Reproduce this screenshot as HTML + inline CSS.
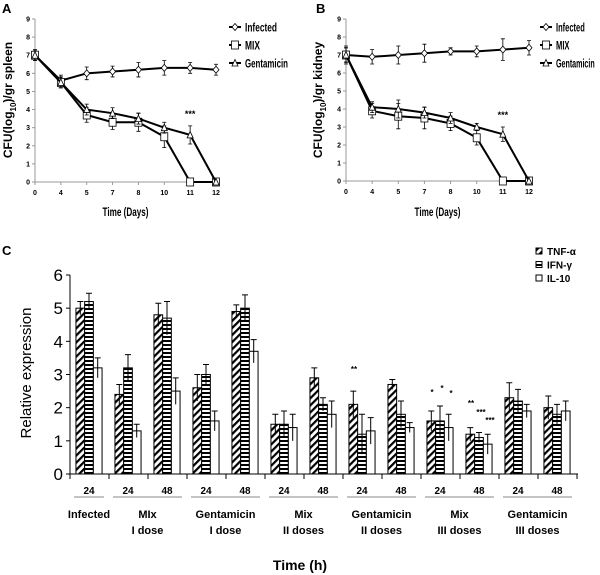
<!DOCTYPE html>
<html><head><meta charset="utf-8">
<style>
html,body{margin:0;padding:0;background:#fff;}
svg{display:block;font-family:"Liberation Sans",sans-serif;}
</style></head>
<body>
<svg id="fig" width="600" height="575" viewBox="0 0 600 575" xmlns="http://www.w3.org/2000/svg">
<defs>
<pattern id="diag" patternUnits="userSpaceOnUse" width="5" height="5" patternTransform="rotate(45)">
<rect width="5" height="5" fill="#fff"/><rect width="2.2" height="5" fill="#000"/></pattern>
<pattern id="horiz" patternUnits="userSpaceOnUse" width="4" height="4">
<rect width="4" height="4" fill="#fff"/><rect width="4" height="2" fill="#000"/></pattern>
</defs>
<g id="panelA"></g>
<g id="panelB"></g>
<g id="panelC"></g>
</svg>
<script>
// ---- Panels A & B data ----
var days = ["0","4","5","7","8","10","11","12"];
var aInfected = [7,5.6,6.0,6.1,6.2,6.3,6.3,6.2];
var aInfectedErr = [0.3,0.3,0.35,0.3,0.4,0.4,0.3,0.3];
var aMix = [7,5.5,3.7,3.3,3.3,2.5,0,0];
var aMixErr = [0.3,0.3,0.4,0.4,0.5,0.6,0,0];
var aGent = [7,5.5,4.0,3.8,3.5,3.0,2.6,0];
var aGentErr = [0.3,0.3,0.3,0.3,0.3,0.3,0.5,0];
var bInfected = [7,6.9,7.0,7.1,7.2,7.2,7.3,7.4];
var bInfectedErr = [0.5,0.4,0.5,0.5,0.2,0.3,0.6,0.4];
var bMix = [7,3.9,3.6,3.5,3.2,2.4,0,0];
var bMixErr = [0.4,0.4,0.7,0.6,0.4,0.4,0,0];
var bGent = [7,4.1,4.0,3.8,3.5,3.0,2.6,0];
var bGentErr = [0.4,0.3,0.5,0.3,0.3,0.2,0.4,0];
var lineTicks = [0,1,2,3,4,5,6,7,8,9];

// ---- Panel C data ----
var groupLabels = ["24","24","48","24","48","24","48","24","48","24","48","24","48"];
var tnf = [5.0,2.4,4.8,2.6,4.9,1.5,2.9,2.1,2.7,1.6,1.2,2.3,2.0];
var tnfErr = [0.2,0.3,0.35,0.4,0.2,0.3,0.3,0.4,0.15,0.3,0.2,0.45,0.35];
var ifn = [5.2,3.2,4.7,3.0,5.0,1.5,2.1,1.2,1.8,1.6,1.1,2.2,1.8];
var ifnErr = [0.25,0.4,0.5,0.3,0.4,0.4,0.2,0.6,0.4,0.45,0.15,0.35,0.3];
var il10 = [3.2,1.3,2.5,1.6,3.7,1.4,1.8,1.3,1.4,1.4,0.9,1.9,1.9];
var il10Err = [0.3,0.2,0.4,0.3,0.35,0.4,0.4,0.4,0.15,0.4,0.3,0.2,0.3];
var barTicks = [0,1,2,3,4,5,6];

var NS="http://www.w3.org/2000/svg";
function mk(parent,tag,attrs,text){var e=document.createElementNS(NS,tag);for(var k in attrs)e.setAttribute(k,attrs[k]);if(text!==undefined)e.textContent=text;parent.appendChild(e);return e;}

function linePanel(gid,letter,cfg){
  var g=document.getElementById(gid);
  var x0=cfg.x0,x1=cfg.x1,yb=cfg.yb,yt=cfg.yt;
  function X(i){return x0+i*(x1-x0)/(days.length-1);}
  function Y(v){return yb-v*(yb-yt)/9;}
  var t=mk(g,"text",{x:cfg.lx,y:13,"font-size":13,"font-weight":"bold"},letter);
  
  
  var ax=mk(g,"line",{x1:x0,y1:yt,x2:x0,y2:yb,stroke:"#999","stroke-width":1});
  
  
  var xa=mk(g,"line",{x1:x0,y1:yb,x2:x1,y2:yb,stroke:"#999","stroke-width":1});
  
  
  lineTicks.forEach(function(v){
    mk(g,"line",{x1:x0-3,y1:Y(v),x2:x0,y2:Y(v),stroke:"#999"});
    var tl=mk(g,"text",{x:x0-5,y:Y(v)+2.5,"font-size":7,"font-weight":"bold","text-anchor":"end"},String(v));
    
    
  });
  days.forEach(function(d,i){
    mk(g,"line",{x1:X(i),y1:yb,x2:X(i),y2:yb+3,stroke:"#999"});
    var tl=mk(g,"text",{x:X(i),y:yb+13,"font-size":7,"font-weight":"bold","text-anchor":"middle"},d);
    
    
  });
  var xt=mk(g,"text",{x:(x0+x1)/2,y:cfg.xty,"font-size":12,"font-weight":"bold","text-anchor":"middle",textLength:46,lengthAdjust:"spacingAndGlyphs"},"Time (Days)");
  
  
  var yti=mk(g,"text",{x:0,y:0,"font-size":12,"font-weight":"bold","text-anchor":"middle",transform:"translate("+cfg.ytx+",100) rotate(-90)"});
  
  
  yti.appendChild(document.createTextNode("CFU(log"));
  mk(yti,"tspan",{"font-size":8,dy:4},"10");
  mk(yti,"tspan",{dy:-4},")/gr "+cfg.organ);
  function marker(gg,type,x,y){
    if(type==="d") return mk(gg,"path",{d:"M"+x+","+(y-3.5)+"L"+(x+3)+","+y+"L"+x+","+(y+3.5)+"L"+(x-3)+","+y+"Z",fill:"#fff",stroke:"#000","stroke-width":0.8});
    if(type==="s") return mk(gg,"rect",{x:x-3.5,y:y-4,width:7,height:8,fill:"#fff",stroke:"#000","stroke-width":0.8});
    return mk(gg,"path",{d:"M"+x+","+(y-3.5)+"L"+(x+3)+","+(y+3)+"L"+(x-3)+","+(y+3)+"Z",fill:"#fff",stroke:"#000","stroke-width":0.8});
  }
  var lens=[32,15,43];
  var series=[{n:"Infected",v:cfg.inf,e:cfg.infE,m:"d"},{n:"MIX",v:cfg.mix,e:cfg.mixE,m:"s"},{n:"Gentamicin",v:cfg.gen,e:cfg.genE,m:"t"}];
  series.forEach(function(s,si){
    var sg=mk(g,"g",{});
    
    
    var pts=s.v.map(function(v,i){return X(i)+","+Y(v);}).join(" ");
    mk(sg,"polyline",{points:pts,fill:"none",stroke:"#000","stroke-width":2});
    s.v.forEach(function(v,i){
      if(s.e[i]>0){
        var e=s.e[i];
        mk(sg,"path",{d:"M"+X(i)+","+Y(v+e)+"V"+Y(v-e)+"M"+(X(i)-2)+","+Y(v+e)+"h4M"+(X(i)-2)+","+Y(v-e)+"h4",stroke:"#000","stroke-width":0.8,fill:"none"});
      }
    });
    s.v.forEach(function(v,i){
      var mm=marker(sg,s.m,X(i),Y(v));
      
      
    });
    var le=mk(g,"g",{});
    
    
    var ly=cfg.legY+si*18;
    mk(le,"line",{x1:cfg.legX,y1:ly,x2:cfg.legX+12,y2:ly,stroke:"#000","stroke-width":2});
    marker(le,s.m,cfg.legX+6,ly);
    mk(le,"text",{x:cfg.legX+16,y:ly+4.5,"font-size":12,"font-weight":"bold",textLength:lens[si]*cfg.legScale,lengthAdjust:"spacingAndGlyphs"},s.n);
  });
  var st=mk(g,"text",{x:X(6),y:Y(cfg.starV),"font-size":9,"font-weight":"bold","text-anchor":"middle"},"***");
  
  
}

linePanel("panelA","A",{lx:2,x0:35,x1:216,yb:182,yt:19,xty:216,ytx:12,organ:"spleen",inf:aInfected,infE:aInfectedErr,mix:aMix,mixE:aMixErr,gen:aGent,genE:aGentErr,legX:229,legY:27,starV:3.6,legScale:1});
linePanel("panelB","B",{lx:316,x0:346,x1:529,yb:181,yt:19,xty:216,ytx:322,organ:"kidney",inf:bInfected,infE:bInfectedErr,mix:bMix,mixE:bMixErr,gen:bGent,genE:bGentErr,legX:540,legY:27,starV:3.5,legScale:0.9});

// ---- Panel C ----
(function(){
  var g=document.getElementById("panelC");
  var ax0=70,yb=474,yt=275,bw=8.7;
  function Y(v){return yb-v*(yb-yt)/6;}
  function GX(i){return 89+39*i;}
  var t=mk(g,"text",{x:2,y:255,"font-size":13,"font-weight":"bold"},"C");
  
  
  var ya=mk(g,"line",{x1:ax0,y1:yt,x2:ax0,y2:yb,stroke:"#000","stroke-width":1});
  
  
  var xa=mk(g,"line",{x1:ax0,y1:yb,x2:578,y2:yb,stroke:"#000","stroke-width":1});
  
  
  barTicks.forEach(function(v){
    mk(g,"line",{x1:ax0-4,y1:Y(v),x2:ax0,y2:Y(v),stroke:"#000"});
    var tl=mk(g,"text",{x:ax0-7,y:Y(v)+6,"font-size":17,"text-anchor":"end"},String(v));
    
    
  });
  for(var k=0;k<=13;k++){mk(g,"line",{x1:ax0+39*k,y1:yb,x2:ax0+39*k,y2:yb+5,stroke:"#000"});}
  var yti=mk(g,"text",{x:0,y:0,"font-size":15,"text-anchor":"middle",transform:"translate(31,373) rotate(-90)"},"Relative expression");
  
  
  var series=[{n:"tnf",v:tnf,e:tnfErr,f:"url(#diag)"},{n:"ifn",v:ifn,e:ifnErr,f:"url(#horiz)"},{n:"il10",v:il10,e:il10Err,f:"#fff"}];
  groupLabels.forEach(function(lab,i){
    var cx=GX(i);
    series.forEach(function(s,si){
      var x=cx-1.5*bw+si*bw, v=s.v[i], e=s.e[i];
      var r=mk(g,"rect",{x:x,y:Y(v),width:bw,height:Y(0)-Y(v),fill:s.f,stroke:"#000","stroke-width":1});
      
      
      var xm=x+bw/2;
      mk(g,"path",{d:"M"+xm+","+Y(v+e)+"V"+Y(v-e)+"M"+(xm-3)+","+Y(v+e)+"h6",stroke:"#000","stroke-width":1,fill:"none"});
    });
    var tl=mk(g,"text",{x:cx,y:494,"font-size":10,"font-weight":"bold","text-anchor":"middle"},lab);
    
    
  });
  var cats=[["Infected",""],["MIx","I dose"],["Gentamicin","I dose"],["Mix","II doses"],["Gentamicin","II doses"],["Mix","III doses"],["Gentamicin","III doses"]];
  cats.forEach(function(c,j){
    var a,b;
    if(j===0){a=GX(0)-15;b=GX(0)+15;}else{a=GX(2*j-1)-15;b=GX(2*j)+15;}
    mk(g,"line",{x1:a,y1:497,x2:b,y2:497,stroke:"#888","stroke-width":1});
    var cl=mk(g,"text",{x:(a+b)/2,y:518,"font-size":11,"font-weight":"bold","text-anchor":"middle"},c[0]);
    
    
    if(c[1]){mk(g,"text",{x:(a+b)/2,y:534,"font-size":11,"font-weight":"bold","text-anchor":"middle"},c[1]);}
  });
  var xt=mk(g,"text",{x:300,y:570,"font-size":14,"font-weight":"bold","text-anchor":"middle"},"Time (h)");
  
  
  var stars=[[354,372,"**"],[432,395,"*"],[442,391,"*"],[451,396,"*"],[471,406,"**"],[481,415,"***"],[490,423,"***"]];
  stars.forEach(function(s){
    var st=mk(g,"text",{x:s[0],y:s[1],"font-size":8,"font-weight":"bold","text-anchor":"middle"},s[2]);
    
    
  });
  var leg=[["TNF-α","url(#diag)"],["IFN-γ","url(#horiz)"],["IL-10","#fff"]];
  leg.forEach(function(l,i){
    var le=mk(g,"g",{});
    
    
    var y=252+i*13.5;
    mk(le,"rect",{x:536,y:y-4,width:6,height:6,fill:l[1],stroke:"#000","stroke-width":1});
    mk(le,"text",{x:547,y:y+3,"font-size":10,"font-weight":"bold"},l[0]);
  });
})();
</script>
</body></html>
